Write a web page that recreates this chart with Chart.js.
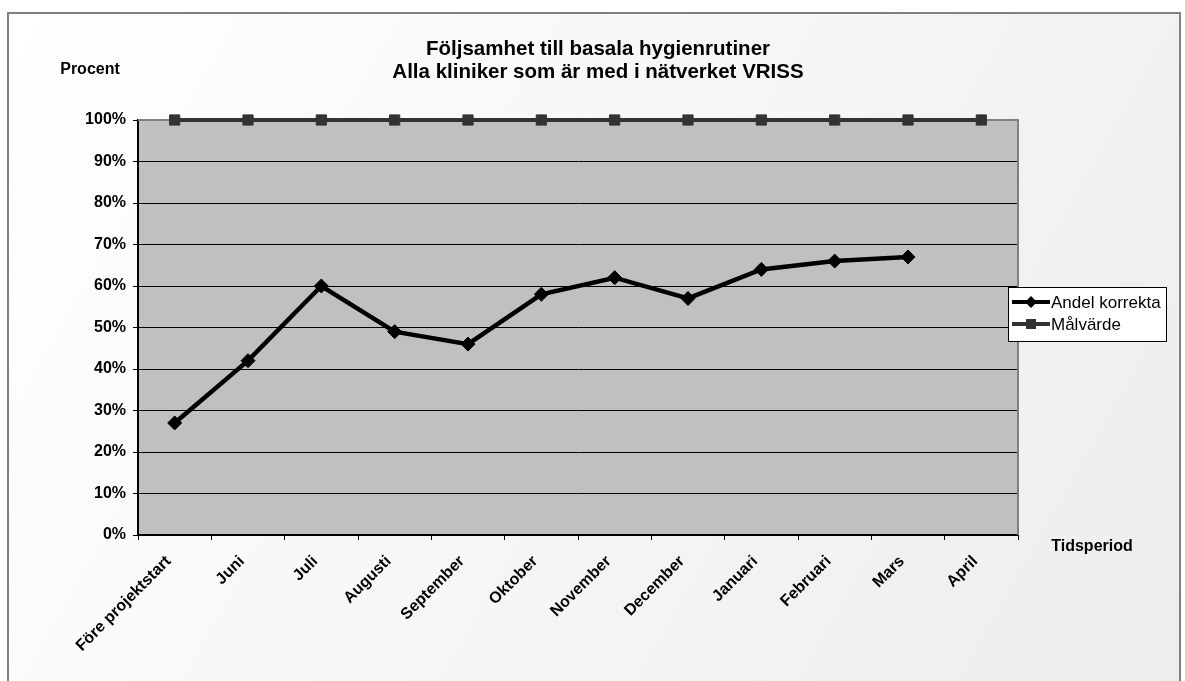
<!DOCTYPE html>
<html><head><meta charset="utf-8">
<script src="https://cdn.jsdelivr.net/npm/chart.js@4/dist/chart.umd.min.js"></script>
<style>html,body{margin:0;padding:0;background:#fff;}canvas{display:block;}</style>
</head><body>
<canvas id="c" width="1185" height="681"></canvas>
<script>
const categories = ["Före projektstart","Juni","Juli","Augusti","September","Oktober","November","December","Januari","Februari","Mars","April"];
const andelKorrekta = [27,42,60,49,46,58,62,57,64,66,67,null];
const malvarde = [100,100,100,100,100,100,100,100,100,100,100,100];
const yTicks = [0,10,20,30,40,50,60,70,80,90,100];
const titleLines = ["Följsamhet till basala hygienrutiner","Alla kliniker som är med i nätverket VRISS"];
const yAxisTitle = "Procent";
const xAxisTitle = "Tidsperiod";
const seriesNames = ["Andel korrekta","Målvärde"];

const FONT = '"Liberation Sans", Arial, sans-serif';

const decor = {
  id:'decor',
  beforeDraw(chart){
    const ctx = chart.ctx, a = chart.chartArea;
    ctx.save();
    ctx.fillStyle = '#ffffff';
    ctx.fillRect(0,0,chart.width,chart.height);
    const g = ctx.createLinearGradient(8,13,1180,681);
    g.addColorStop(0,'#ffffff');
    g.addColorStop(1,'#ededed');
    ctx.fillStyle = g;
    ctx.fillRect(8,13,1172,668);
    ctx.strokeStyle = '#808080';
    ctx.lineWidth = 2;
    ctx.strokeRect(8,13,1172,700);
    ctx.fillStyle = '#c0c0c0';
    ctx.fillRect(a.left,a.top,a.right-a.left,a.bottom-a.top);
    ctx.restore();
  },
  beforeDatasetsDraw(chart){
    const ctx = chart.ctx, a = chart.chartArea;
    ctx.save();
    ctx.strokeStyle = '#808080';
    ctx.lineWidth = 2;
    ctx.beginPath();
    ctx.moveTo(a.right, a.bottom);
    ctx.lineTo(a.right, a.top);
    ctx.lineTo(a.left, a.top);
    ctx.stroke();
    ctx.restore();
  },
  afterDraw(chart){
    const ctx = chart.ctx;
    ctx.save();
    ctx.fillStyle = '#000';
    ctx.textAlign = 'center';
    ctx.textBaseline = 'middle';
    ctx.font = 'bold 20.5px ' + FONT;
    ctx.fillText(titleLines[0], 598, 49);
    ctx.fillText(titleLines[1], 598, 72);
    ctx.font = 'bold 16px ' + FONT;
    ctx.fillText(yAxisTitle, 90, 70);
    ctx.fillText(xAxisTitle, 1092, 547);
    const lx = 1008, ly = 287, lw = 158, lh = 54;
    ctx.fillStyle = '#ffffff';
    ctx.fillRect(lx, ly, lw, lh);
    ctx.strokeStyle = '#000';
    ctx.lineWidth = 1;
    ctx.strokeRect(lx+0.5, ly+0.5, lw, lh);
    const ds = chart.data.datasets;
    const rows = [302, 324];
    ds.forEach((d,i)=>{
      const y = rows[i];
      ctx.strokeStyle = d.borderColor;
      ctx.lineWidth = 4;
      ctx.beginPath(); ctx.moveTo(1012,y); ctx.lineTo(1050,y); ctx.stroke();
      ctx.fillStyle = d.borderColor;
      ctx.beginPath();
      if (d.pointStyle === 'rectRot') {
        ctx.moveTo(1031,y-6); ctx.lineTo(1037,y); ctx.lineTo(1031,y+6); ctx.lineTo(1025,y);
      } else {
        ctx.rect(1026,y-5,10,10);
      }
      ctx.closePath(); ctx.fill();
      ctx.fillStyle = '#000';
      ctx.font = '17px ' + FONT;
      ctx.textAlign = 'left';
      ctx.fillText(d.label, 1051, y+1);
    });
    ctx.restore();
  }
};

new Chart(document.getElementById('c'), {
  type:'line',
  data:{
    labels: categories,
    datasets:[
      {label: seriesNames[0], data: andelKorrekta, borderColor:'#000000', backgroundColor:'#000000',
       borderWidth:4.5, pointStyle:'rectRot', pointRadius:7, pointBorderWidth:1, tension:0, fill:false, spanGaps:false, clip:false, order:2},
      {label: seriesNames[1], data: malvarde, borderColor:'#333333', backgroundColor:'#333333',
       borderWidth:4, pointStyle:'rect', pointRadius:7.2, pointBorderWidth:1, tension:0, fill:false, clip:false, order:1}
    ]
  },
  options:{
    responsive:false,
    animation:false,
    layout:{padding:{left:0, right:167, top:120, bottom:0}},
    plugins:{legend:{display:false}, title:{display:false}, tooltip:{enabled:false}},
    scales:{
      x:{
        offset:true,
        afterFit(s){ s.height = 146; },
        grid:{offset:true, drawOnChartArea:false, drawTicks:true, tickLength:5, color:'#000', lineWidth:1},
        border:{color:'#000', width:2},
        ticks:{color:'#000', font:{family:FONT, size:16, weight:'bold'}, maxRotation:45, minRotation:45, autoSkip:false, padding:12, labelOffset:-6}
      },
      y:{
        min:0, max:100,
        afterFit(s){ s.width = 138; },
        afterBuildTicks(s){ s.ticks = yTicks.map(v=>({value:v})); },
        grid:{color:'#000', lineWidth:1, drawTicks:true, tickLength:5},
        border:{color:'#000', width:2},
        ticks:{color:'#000', font:{family:FONT, size:16, weight:'bold'}, padding:7, callback:v=>v+'%'}
      }
    }
  },
  plugins:[decor]
});
</script>
</body></html>
